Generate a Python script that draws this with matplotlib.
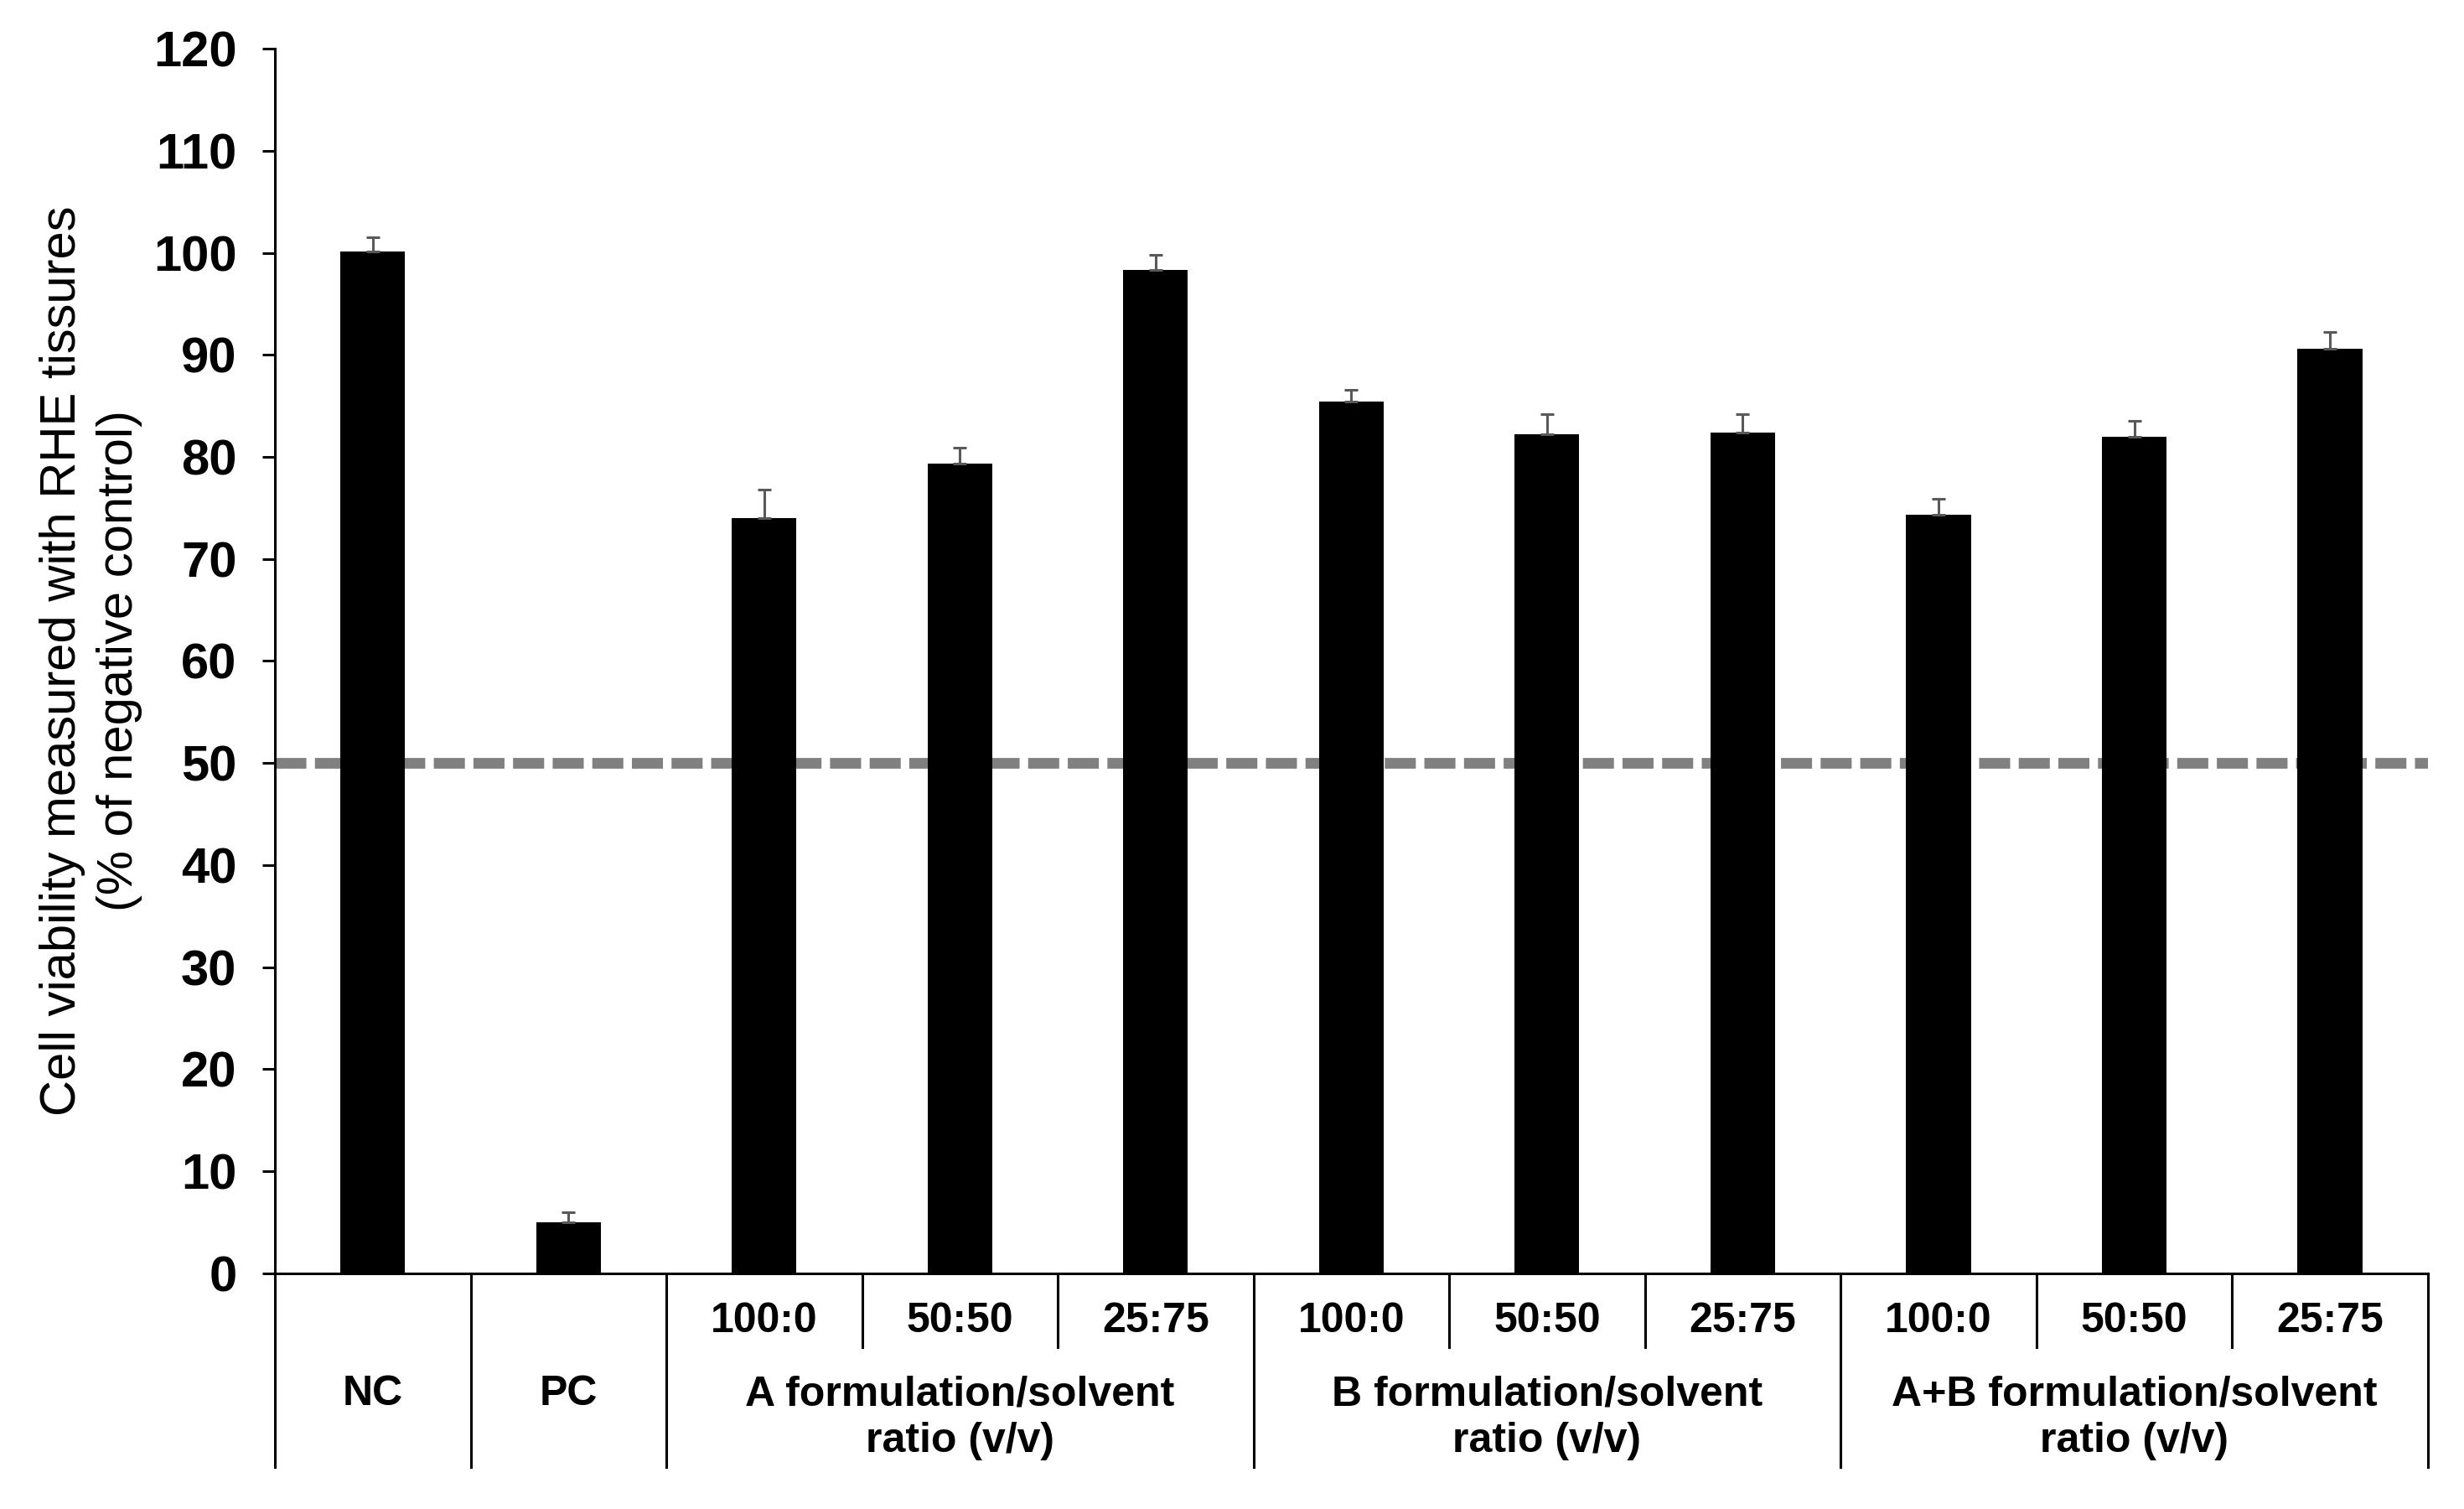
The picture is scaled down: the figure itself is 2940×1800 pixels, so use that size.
import matplotlib
matplotlib.use("Agg")
import matplotlib.pyplot as plt
import numpy as np

plt.rcParams["font.family"] = ["Liberation Sans", "DejaVu Sans"]

# values (% of negative control)
sub_labels = ["", "", "100:0", "50:50", "25:75", "100:0", "50:50", "25:75",
              "100:0", "50:50", "25:75"]
viability = [100.1, 5.0, 74.0, 79.3, 98.3, 85.4, 82.2, 82.4, 74.3, 82.0, 90.6]
sd_upper = [1.4, 1.0, 2.8, 1.6, 1.5, 1.2, 2.0, 1.8, 1.6, 1.5, 1.6]

group_labels = ["NC", "PC", "A formulation/solvent\nratio (v/v)",
                "B formulation/solvent\nratio (v/v)",
                "A+B formulation/solvent\nratio (v/v)"]
group_sizes = [1, 1, 3, 3, 3]

threshold = 50
yticks = np.arange(0, 121, 10)

fig = plt.figure(figsize=(14.7, 9), dpi=200)
ax = fig.add_axes([0.1116, 0.15625, 0.8737, 0.8115])

x = np.arange(len(viability))
ax.bar(x, viability, width=0.33, color="black", zorder=2)
ax.errorbar(x, viability, yerr=[np.zeros(len(sd_upper)), sd_upper], fmt="none",
            ecolor="#595959", elinewidth=1.1, capsize=3, capthick=1.1, zorder=3)

ax.axhline(threshold, color="#808080", lw=4.6, ls=(0, (2.9, 0.8)), zorder=1)

ax.set_xlim(-0.5, len(viability) - 0.5)
ax.set_ylim(0, 120)
ax.set_yticks(yticks)
ax.tick_params(axis="y", direction="out", length=5.4, width=1.1,
               labelsize=21.5, pad=11)
for lab in ax.get_yticklabels():
    lab.set_fontweight("bold")
ax.set_xticks([])

for side in ("top", "right"):
    ax.spines[side].set_visible(False)
for side in ("left", "bottom"):
    ax.spines[side].set_linewidth(1.1)

ax.set_ylabel("Cell viability measured with RHE tissures\n(% of negative control)",
              fontsize=21.5, ha="center", va="center", linespacing=1.3)
ax.yaxis.set_label_coords(-0.0855, 0.5)

# category table under the axis
tr = ax.get_xaxis_transform()
edges = np.cumsum([0] + group_sizes) - 0.5
row1_y = -0.0603
long_y = -0.158
for e in edges:
    ax.plot([e, e], [0, long_y], color="black", lw=1.1, clip_on=False,
            transform=tr)
for start, size in zip(edges[:-1], group_sizes):
    for k in range(1, size):
        ax.plot([start + k, start + k], [0, row1_y], color="black", lw=1.1,
                clip_on=False, transform=tr)

for xi, lab in zip(x, sub_labels):
    if lab:
        ax.text(xi, -0.0395, lab, transform=tr, ha="center", va="center",
                fontsize=18, fontweight="bold")

for start, size, lab in zip(edges[:-1], group_sizes, group_labels):
    cx = start + size / 2
    for i, line in enumerate(lab.split("\n")):
        ax.text(cx, -0.0988 - 0.038 * i, line, transform=tr, ha="center",
                va="center", fontsize=18, fontweight="bold")

fig.savefig("out.png", dpi=200)
